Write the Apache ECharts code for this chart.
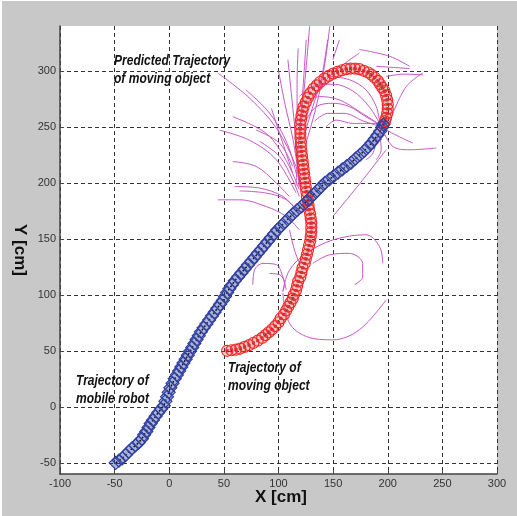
<!DOCTYPE html>
<html><head><meta charset="utf-8">
<script src="https://cdn.jsdelivr.net/npm/echarts@6/dist/echarts.min.js"></script>
<style>html,body{margin:0;padding:0;background:#fff}#c{width:517px;height:516px}</style>
</head><body><div id="c"></div>
<script>
const xTicks = [-100,-50,0,50,100,150,200,250,300];
const yTicks = [-50,0,50,100,150,200,250,300];

const robotPath = [[-49,-50],[-46,-48],[-43,-46],[-40,-43],[-37,-40],[-34,-37],[-31,-34.5],[-28,-32],[-25,-28.5],[-23,-25],[-21,-22],[-19,-18.5],[-17,-15],[-15,-12],[-12.5,-8.5],[-10,-5],[-7.5,-2],[-5,1],[-3.5,5],[-2,9],[-0.5,13],[1,17],[3,21],[5,25],[7,28.5],[9,32],[11,35.5],[13,39],[15,42.5],[17,46],[19,49.5],[21,53],[23,56.5],[25,60],[27,63.5],[29,67],[31.5,70.5],[34,74],[36.5,77.5],[39,81],[41.5,84.5],[44,88],[46.5,91.5],[49,95],[51,98.5],[53,102],[55,105.5],[57.5,109],[60,112.5],[63,116],[66,119.5],[69,123],[72,126.5],[75,130],[78,133.5],[81,137],[84,140.5],[87,144],[90,147.5],[93,151],[96,154.5],[99,158],[102.5,161.5],[106,165],[109.5,168.5],[113,172],[117,175.5],[121,179],[125,182.5],[128.5,186],[132,189.5],[135.5,193],[139,196.5],[142.5,200],[146.5,203],[150.5,206],[154.5,209],[158.5,212],[162.5,215],[166.5,218],[170.5,221.5],[174.5,225],[178.5,228.5],[182,232],[185,235.5],[188,239],[190.5,242.5],[193,246],[195,249.5],[196,252]];

const objectPath = [[53,50],[57,50.5],[61,51],[65,52],[69,53.5],[73,55],[77,57],[81,59],[85,61.5],[88,64],[91,66.5],[94,69],[97,72],[100,75.5],[102,79],[105,82.5],[107,86],[109,89.5],[111,93],[113,96.5],[114,100],[116,104],[117,108],[118,112],[120,116],[121,120],[122,124],[124,128],[125,132],[126,136],[127,140],[128,144],[129,148],[129.5,152],[130,156],[130,160],[130,164],[129.5,168],[129,172],[128,176],[127.5,180],[127,184],[126,188],[125.5,192],[125,196],[124.5,200],[124,204],[123.5,208],[123,212],[122.5,216],[122,220],[121.5,224],[121,228],[120.5,232],[120.5,236],[120,240],[120,244],[120,248],[120,252],[120.5,256],[121,260],[122,264],[123,268],[125,272],[127,276],[129,280],[132,284],[135,287],[138,290],[142,293],[146,295.5],[150,297.5],[154,299],[158,300.5],[162,301.5],[166,302],[170,302],[174,301.5],[178,300],[182,298.5],[185,296.5],[188,294],[191,291],[193,288],[195,285],[197,282],[198.5,278],[199.5,274],[200,270],[200,266],[199.5,262],[198.5,258],[197.5,255],[196,252]];

const predictedPaths = [
 [[44.5,298],[73.5,275.6],[98,248.8],[116,214.6],[119,196.7]],
 [[58.2,259],[88.8,244],[107,220],[119,194]],
 [[46,247],[73.5,238],[98,220.5],[116,191]],
 [[93.4,266.7],[101,244],[113,208.6]],
 [[70,283],[92,262],[108,235],[117,205]],
 [[100,300],[106,270],[113,240],[118,210]],
 [[108.6,310],[111.7,280],[116,238],[119,196.7]],
 [[118,320],[117,290],[117,255]],
 [[125.4,327.7],[122.3,283],[119,238]],
 [[128.5,340],[124,289],[119,244.6],[116,197]],
 [[147,340],[142,304],[134.5,268],[125,235]],
 [[145,327.7],[139,292],[131.4,268],[122.3,238]],
 [[174,315.8],[149.8,298],[131.4,277]],
 [[82.7,237],[101,223.5],[113,202.7],[119,187.8]],
 [[79.6,247],[101,235.4],[113,214.6]],
 [[58.2,219],[79.6,214.6],[98,199.7],[110,187.8]],
 [[59.8,196.7],[82.7,195.3],[104,187.8],[116,176]],
 [[64.4,192.8],[88.8,190.8],[107,185],[119,173]],
 [[44.5,184.8],[64.4,184.8],[88.8,178.8],[107,170],[119,158]],
 [[194,251],[180,259],[165,268],[149.8,271],[134.5,268],[125.4,256]],
 [[194,251],[174,263.7],[155.8,274],[137.6,277],[125.4,271]],
 [[194,250],[178,255],[160,262],[145,262],[133,255]],
 [[192.5,253],[183,268],[168,282],[149.8,288],[131.4,286],[119,277]],
 [[192.5,254.7],[189.5,268],[180,283],[165,292],[146.7,295]],
 [[191,253],[168,253],[152.9,256],[143.7,250]],
 [[195.5,248.8],[210.8,241],[223,235.4]],
 [[195.5,247],[204.7,232.4],[220,229.5],[244.4,231]],
 [[192.5,247],[194,229.5],[189.5,220.5]],
 [[191,244],[186.4,226.5],[180,220.5]],
 [[204.7,262],[217,286],[232,298]],
 [[189.5,304],[205,303],[220,302]],
 [[198.6,295],[215,297],[232.4,296.4]],
 [[174,319],[201.6,313],[220,304]],
 [[155.8,327.7],[149.8,310]],
 [[198.6,229.5],[175,200],[149.8,170]],
 [[104,103],[110,122],[125.4,137],[149.8,149],[180,153.6],[192.5,143],[195.5,128]],
 [[131.4,128],[146.7,135.7],[165,137],[177,128],[177,116],[169.6,109]],
 [[104,101.5],[110,74.7],[125.4,62.8],[149.8,59.8],[174,68.8],[198.6,95.5]],
 [[76.5,109],[78,122],[85.7,128],[98,127],[104,116],[107,104.5]],
 [[91.8,119],[101,118],[105.5,110],[104,103]],
 [[110,158],[114.6,140],[119,128.6]]
];

const xTitle = 'X [cm]';
const yTitle = 'Y [cm]';
const notes = [
  {text:'Predicted Trajectory\nof moving object', x:114, y:52},
  {text:'Trajectory of\nmobile robot', x:76, y:372},
  {text:'Trajectory of\nmoving object', x:228, y:359}
];

const chart = echarts.init(document.getElementById('c'), null, {renderer:'canvas'});
const series = [];
predictedPaths.forEach(p => series.push({
  type:'line', data:p, smooth:0.35, showSymbol:false, silent:true,
  lineStyle:{color:'#c558c5', width:1}
}));
series.push({
  type:'line', data:objectPath, symbol:'circle', symbolSize:11, showSymbol:true,
  itemStyle:{color:'rgba(255,255,255,0)', borderColor:'#f42a2a', borderWidth:1.2},
  lineStyle:{width:9, color:'rgba(245,60,60,0.3)', cap:'round', join:'round'}
});
series.push({
  type:'scatter', data:objectPath, symbol:'rect', symbolSize:3,
  itemStyle:{color:'#222'}
});
series.push({
  type:'line', data:robotPath, symbol:'diamond', symbolSize:13, showSymbol:true,
  itemStyle:{color:'rgba(255,255,255,0)', borderColor:'#3040a0', borderWidth:1.2},
  lineStyle:{width:10, color:'rgba(48,64,160,0.4)', cap:'round', join:'round'}
});
series.push({
  type:'line', data:robotPath, showSymbol:false,
  lineStyle:{color:'#1a1a1a', width:1.5, type:[2,2]}
});

const textStyleNote = {fill:'#111', font:'italic bold 14px "Liberation Sans", Arial, sans-serif', lineHeight:18};

chart.setOption({
  backgroundColor:'#c8c8c8',
  animation:false,
  grid:{left:60, top:26, width:437, height:448, show:true, backgroundColor:'#fff', borderWidth:0},
  xAxis:{
    type:'value', min:-100, max:300, interval:50,
    axisLine:{show:true, onZero:false, lineStyle:{color:'#444', width:1.5}},
    axisTick:{show:true, inside:true, length:4, lineStyle:{color:'#444'}},
    axisLabel:{color:'#333', fontSize:11, margin:4, fontFamily:'"Liberation Sans", Arial, sans-serif'},
    splitLine:{show:true, lineStyle:{color:'#333', width:1, type:[4,3]}}
  },
  yAxis:{
    type:'value', min:-60, max:340,
    axisLine:{show:true, onZero:false, lineStyle:{color:'#444', width:1.5}},
    axisTick:{show:true, inside:true, length:4, customValues:yTicks, lineStyle:{color:'#444'}},
    axisLabel:{color:'#333', fontSize:11, margin:4, customValues:yTicks, fontFamily:'"Liberation Sans", Arial, sans-serif'},
    splitLine:{show:true, lineStyle:{color:'#333', width:1, type:[4,3]}}
  },
  graphic:[
    {type:'rect', shape:{x:0,y:0,width:2,height:516}, style:{fill:'#fff'}, silent:true},
    {type:'rect', shape:{x:0,y:0,width:517,height:1}, style:{fill:'#fff'}, silent:true},
    {type:'text', x:281, y:497, style:{text:xTitle, fill:'#111', align:'center', verticalAlign:'middle', font:'bold 17px "Liberation Sans", Arial, sans-serif'}},
    {type:'text', x:20, y:250, rotation:-Math.PI/2, style:{text:yTitle, fill:'#111', align:'center', verticalAlign:'middle', font:'bold 17px "Liberation Sans", Arial, sans-serif'}},
  ].concat(notes.map(n => ({type:'text', x:n.x, y:n.y, scaleX:0.86, z:100, style:Object.assign({text:n.text}, textStyleNote)}))),
  series: series
});
</script></body></html>
